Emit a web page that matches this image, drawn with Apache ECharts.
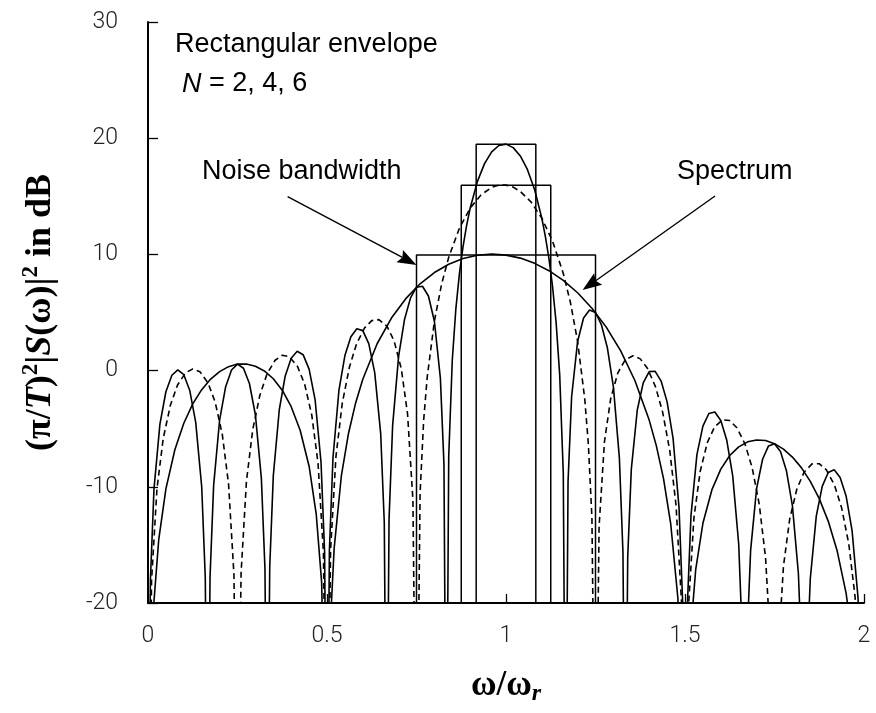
<!DOCTYPE html>
<html>
<head>
<meta charset="utf-8">
<script src="https://cdn.jsdelivr.net/npm/echarts@6/dist/echarts.min.js"></script>
<style>
  html, body { margin: 0; padding: 0; background: #fff; }
  #chart { width: 876px; height: 713px; }
</style>
</head>
<body>
<div id="chart"></div>
<script>
// Power spectrum (π/T)²|S(ω)|² in dB of a rectangular-envelope tone burst,
// sampled along ω/ω_r for N = 2, 4 and 6 cycles. Each lobe runs from one
// spectral null to the next; -40 marks a null (drawn clipped at the -20 floor).

// ω/ω_r positions, N = 2
const omegaN2 = [
  0, 0.015, 0.03, 0.05, 0.075, 0.1, 0.125, 0.15, 0.175, 0.2, 0.225, 0.25, 0.275, 0.3, 0.325, 0.35, 0.375, 0.4, 0.425, 0.45, 0.47, 0.485,
  0.5, 0.51, 0.52, 0.54, 0.56, 0.58, 0.6, 0.64, 0.68, 0.72, 0.76, 0.8, 0.84, 0.88, 0.92, 0.96, 1.0, 1.04, 1.08, 1.12, 1.16, 1.2, 1.24, 1.28, 1.32, 1.36, 1.4, 1.42, 1.44, 1.46, 1.48, 1.49,
  1.5, 1.515, 1.53, 1.55, 1.575, 1.6, 1.625, 1.65, 1.675, 1.7, 1.725, 1.75, 1.775, 1.8, 1.825, 1.85, 1.875, 1.9, 1.925, 1.95, 1.97, 1.985, 2
];
// level in dB, N = 2
const levelN2 = [
  -40, -20.53, -14.54, -10.18, -6.81, -4.53, -2.87, -1.64, -0.73, -0.09, 0.34, 0.56, 0.57, 0.38, -0.03, -0.70, -1.69, -3.11, -5.13, -8.23, -12.38, -18.20,
  -40, -21.43, -15.30, -9.09, -5.41, -2.78, -0.74, 2.31, 4.52, 6.19, 7.47, 8.44, 9.15, 9.64, 9.93, 10.03, 9.94, 9.68, 9.23, 8.60, 7.76, 6.70, 5.37, 3.74, 1.72, -0.85, -4.26, -6.48, -9.30, -13.16, -19.55, -25.77,
  -40, -22.78, -17.10, -13.14, -10.27, -8.48, -7.31, -6.56, -6.13, -5.97, -6.02, -6.29, -6.76, -7.44, -8.35, -9.53, -11.02, -12.95, -15.51, -19.15, -23.74, -29.90, -40
];

// ω/ω_r positions, N = 4
const omegaN4 = [
  0, 0.01, 0.025, 0.0425, 0.0625, 0.0825, 0.105, 0.125, 0.145, 0.1675, 0.1875, 0.2075, 0.225, 0.24,
  0.25, 0.26, 0.275, 0.2925, 0.3125, 0.3325, 0.355, 0.375, 0.395, 0.4175, 0.4375, 0.4575, 0.475, 0.49,
  0.5, 0.51, 0.525, 0.5425, 0.5625, 0.5825, 0.605, 0.625, 0.645, 0.6675, 0.6875, 0.7075, 0.725, 0.74,
  0.75, 0.76, 0.77, 0.78, 0.8, 0.82, 0.84, 0.87, 0.9, 0.93, 0.96, 0.98, 1.0, 1.02, 1.04, 1.07, 1.1, 1.13, 1.16, 1.18, 1.2, 1.22, 1.23, 1.24,
  1.25, 1.26, 1.275, 1.2925, 1.3125, 1.3325, 1.355, 1.375, 1.395, 1.4175, 1.4375, 1.4575, 1.475, 1.49,
  1.5, 1.51, 1.525, 1.5425, 1.5625, 1.5825, 1.605, 1.625, 1.645, 1.6675, 1.6875, 1.7075, 1.725, 1.74,
  1.75, 1.76, 1.775, 1.7925, 1.8125, 1.8325, 1.855, 1.875, 1.895, 1.9175, 1.9375, 1.9575, 1.975, 1.99, 2
];
// level in dB, N = 4
const levelN4 = [
  -40, -18.04, -10.19, -5.85, -2.98, -1.24, -0.18, 0.14, -0.10, -1.05, -2.70, -5.49, -9.75, -17.52,
  -40, -17.43, -9.52, -5.09, -2.12, -0.28, 0.89, 1.32, 1.19, 0.36, -1.16, -3.83, -7.98, -15.66,
  -40, -15.42, -7.40, -2.84, 0.29, 2.30, 3.68, 4.30, 4.39, 3.82, 2.55, 0.16, -3.72, -11.15,
  -40, -10.55, -4.28, -0.54, 4.26, 7.43, 9.75, 12.27, 13.99, 15.12, 15.77, 15.96, 15.96, 15.79, 15.42, 14.51, 13.12, 11.14, 8.36, 5.86, 2.52, -2.46, -6.29, -12.65,
  -40, -13.42, -6.13, -2.40, -0.19, 0.91, 1.28, 1.01, 0.20, -1.38, -3.57, -6.89, -11.61, -19.77,
  -40, -20.18, -12.65, -8.66, -6.19, -4.85, -4.23, -4.30, -4.92, -6.31, -8.34, -11.52, -16.11, -24.18,
  -40, -24.47, -16.85, -12.77, -10.19, -8.75, -8.03, -8.01, -8.55, -9.85, -11.81, -14.91, -19.45, -27.47, -40
];

// ω/ω_r positions, N = 6
const omegaN6 = [
  0, 0.0067, 0.0167, 0.0333, 0.05, 0.0667, 0.0833, 0.1, 0.1167, 0.1333, 0.15, 0.16,
  0.1667, 0.1733, 0.1833, 0.2, 0.2167, 0.2333, 0.25, 0.2667, 0.2833, 0.3, 0.3167, 0.3267,
  0.3333, 0.34, 0.35, 0.3667, 0.3833, 0.4, 0.4167, 0.4333, 0.45, 0.4667, 0.4833, 0.4933,
  0.5, 0.5067, 0.5167, 0.5333, 0.55, 0.5667, 0.5833, 0.6, 0.6167, 0.6333, 0.65, 0.66,
  0.6667, 0.6733, 0.6833, 0.7, 0.7167, 0.7333, 0.75, 0.7667, 0.7833, 0.8, 0.8167, 0.8267,
  0.8333, 0.84, 0.85, 0.86, 0.87, 0.88, 0.89, 0.9, 0.92, 0.94, 0.96, 0.98, 1.0, 1.02, 1.04, 1.06, 1.08, 1.1, 1.11, 1.12, 1.13, 1.14, 1.15, 1.16,
  1.1667, 1.1733, 1.1833, 1.2, 1.2167, 1.2333, 1.25, 1.2667, 1.2833, 1.3, 1.3167, 1.3267,
  1.3333, 1.34, 1.35, 1.3667, 1.3833, 1.4, 1.4167, 1.4333, 1.45, 1.4667, 1.4833, 1.4933,
  1.5, 1.5067, 1.5167, 1.5333, 1.55, 1.5667, 1.5833, 1.6, 1.6167, 1.6333, 1.65, 1.66,
  1.6667, 1.6733, 1.6833, 1.7, 1.7167, 1.7333, 1.75, 1.7667, 1.7833, 1.8, 1.8167, 1.8267,
  1.8333, 1.84, 1.85, 1.8667, 1.8833, 1.9, 1.9167, 1.9333, 1.95, 1.9667, 1.9833, 1.9933, 2
];
// level in dB, N = 6
const levelN6 = [
  -40, -18.04, -10.20, -4.61, -1.82, -0.40, 0.06, -0.35, -1.72, -4.46, -10.00, -17.81,
  -40, -17.77, -9.90, -4.27, -1.42, 0.05, 0.56, 0.20, -1.11, -3.80, -9.28, -17.06,
  -40, -16.97, -9.06, -3.37, -0.46, 1.07, 1.66, 1.37, 0.13, -2.49, -7.89, -15.62,
  -40, -15.46, -7.50, -1.71, 1.29, 2.92, 3.61, 3.44, 2.32, -0.17, -5.43, -13.07,
  -40, -12.79, -4.74, 1.23, 4.42, 6.26, 7.18, 7.26, 6.42, 4.25, -0.65, -8.05,
  -40, -7.42, 0.93, 5.34, 8.37, 10.67, 12.50, 13.99, 16.26, 17.81, 18.82, 19.37, 19.49, 19.19, 18.47, 17.29, 15.56, 13.12, 11.54, 9.63, 7.24, 4.13, -0.37, -8.81,
  -40, -9.56, -2.25, 2.51, 4.53, 5.22, 5.00, 3.93, 1.94, -1.40, -7.51, -15.66,
  -40, -16.05, -8.50, -3.39, -1.06, -0.09, -0.06, -0.90, -2.69, -5.84, -11.79, -19.84,
  -40, -20.12, -12.48, -7.23, -4.78, -3.69, -3.56, -4.30, -6.00, -9.06, -14.92, -22.93,
  -40, -23.15, -15.47, -10.15, -7.63, -6.48, -6.29, -6.97, -8.61, -11.62, -17.44, -25.41,
  -40, -25.59, -17.89, -12.52, -9.96, -8.77, -8.54, -9.19, -10.79, -13.77, -19.55, -27.51, -40
];

// Equivalent noise bandwidth rectangles (one per N)
const bandN = [2, 4, 6];
const bandLow = [0.75, 0.875, 0.9167];
const bandHigh = [1.25, 1.125, 1.0833];
const bandPeak = [9.94, 15.96, 19.49];

// Axis ticks
const xTicks = [0, 0.5, 1, 1.5, 2];
const yTicks = [-20, -10, 0, 10, 20, 30];

const zip = (xs, ys) => xs.map((x, i) => [x, ys[i]]);

const chart = echarts.init(document.getElementById('chart'), null, { renderer: 'canvas' });

const serif = '"Liberation Serif", "DejaVu Serif", serif';
const sans = '"Liberation Sans", Arial, sans-serif';
const tickFont = 'Roboto, "Liberation Sans", sans-serif';

const curveStyle = (dashed) => ({
  color: '#000', width: 1.6, type: dashed ? [6, 4] : 'solid'
});

const series = [
  { name: 'N = 2', data: zip(omegaN2, levelN2), dashed: false },
  { name: 'N = 4', data: zip(omegaN4, levelN4), dashed: true },
  { name: 'N = 6', data: zip(omegaN6, levelN6), dashed: false }
].map(s => ({
  type: 'line', name: s.name, data: s.data, showSymbol: false, symbol: 'none',
  clip: true, silent: true, lineStyle: curveStyle(s.dashed), z: 3
}));

bandN.forEach((n, i) => {
  series.push({
    type: 'line', name: 'band ' + n, showSymbol: false, symbol: 'none', clip: true, silent: true,
    data: [[bandLow[i], -20], [bandLow[i], bandPeak[i]], [bandHigh[i], bandPeak[i]], [bandHigh[i], -20]],
    lineStyle: { color: '#000', width: 1.5 }, z: 2
  });
});

const tok = (size, extra) => Object.assign({
  fontFamily: serif, fontWeight: 'bold', fontSize: size, color: '#000', lineHeight: size + 6
}, extra || {});

chart.setOption({
  animation: false,
  backgroundColor: '#fff',
  grid: { left: 148, right: 12, top: 22, bottom: 110, containLabel: false },
  xAxis: {
    type: 'value', min: xTicks[0], max: xTicks[xTicks.length - 1], interval: 0.5,
    axisLine: { show: true, onZero: false, lineStyle: { color: '#000', width: 2 } },
    axisTick: { show: true, inside: true, length: 9, lineStyle: { color: '#000', width: 1.3 } },
    axisLabel: {
      show: true, margin: 22, fontSize: 23, fontFamily: tickFont, fontWeight: 300, color: '#222',
      formatter: v => String(v)
    },
    splitLine: { show: false },
    name: '{w|ω/ω}{r|r}',
    nameLocation: 'middle', nameGap: 62,
    nameTextStyle: {
      rich: {
        w: tok(35),
        r: tok(24, { fontStyle: 'italic', verticalAlign: 'bottom', lineHeight: 24 })
      }
    }
  },
  yAxis: {
    type: 'value', min: yTicks[0], max: yTicks[yTicks.length - 1], interval: 10,
    axisLine: { show: true, onZero: false, lineStyle: { color: '#000', width: 2 } },
    axisTick: { show: true, inside: true, length: 10, lineStyle: { color: '#000', width: 1.3 } },
    axisLabel: { show: true, margin: 30, fontSize: 23, fontFamily: tickFont, fontWeight: 300, color: '#222' },
    splitLine: { show: false },
    name: '{a|(π/}{i|T}{a|)}{s|2}{a||}{i|S}{a|(ω)|}{s|2}{a| in dB}',
    nameLocation: 'middle', nameRotate: 90, nameGap: 86,
    nameTextStyle: {
      rich: {
        a: tok(36),
        i: tok(36, { fontStyle: 'italic' }),
        s: tok(23, { verticalAlign: 'top', lineHeight: 23 })
      }
    }
  },
  series: series
});

// Annotations: captions and the two pointer arrows, placed through the grid scales
function arrow(from, to) {
  const p0 = chart.convertToPixel({ gridIndex: 0 }, from);
  const p1 = chart.convertToPixel({ gridIndex: 0 }, to);
  const dx = p1[0] - p0[0], dy = p1[1] - p0[1];
  const len = Math.hypot(dx, dy);
  const ux = dx / len, uy = dy / len, nx = -uy, ny = ux;
  const headLen = 19, halfW = 7, notch = 3;
  const bx = p1[0] - ux * headLen, by = p1[1] - uy * headLen;
  const mx = p1[0] - ux * (headLen - notch), my = p1[1] - uy * (headLen - notch);
  return [
    { type: 'line', silent: true, z: 10,
      shape: { x1: p0[0], y1: p0[1], x2: mx, y2: my },
      style: { stroke: '#000', lineWidth: 1.4 } },
    { type: 'polygon', silent: true, z: 10,
      shape: { points: [[p1[0], p1[1]], [bx + nx * halfW, by + ny * halfW], [mx, my], [bx - nx * halfW, by - ny * halfW]] },
      style: { fill: '#000' } }
  ];
}

const caption = (text, x, y, rich) => ({
  type: 'text', silent: true, z: 10, x: x, y: y,
  style: {
    text: text, fill: '#000', fontSize: 27, fontFamily: sans,
    textAlign: 'left', textVerticalAlign: 'middle', align: 'left', verticalAlign: 'middle',
    rich: rich
  }
});

chart.setOption({
  graphic: [
    caption('Rectangular envelope', 175, 45),
    caption('{i|N}{r| = 2, 4, 6}', 182, 84, {
      i: { fontStyle: 'italic', fontSize: 27, fontFamily: sans, fill: '#000' },
      r: { fontSize: 27, fontFamily: sans, fill: '#000' }
    }),
    caption('Noise bandwidth', 202, 172),
    caption('Spectrum', 677, 172)
  ].concat(
    arrow([0.39, 14.97], [0.75, 9.09]),
    arrow([1.584, 15.03], [1.214, 6.94])
  )
});
</script>
</body>
</html>
